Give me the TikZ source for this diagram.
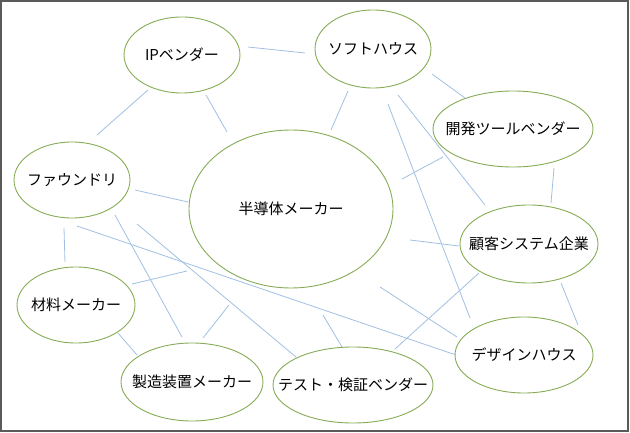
\documentclass[tikz,border=0pt]{standalone}
\usepackage{fontspec}
\setmainfont{Noto Sans CJK JP}
\usetikzlibrary{shapes.geometric}
\definecolor{ellgreen}{RGB}{135,172,85}
\definecolor{linkblue}{RGB}{160,192,226}
\definecolor{framegray}{RGB}{90,90,90}
\newcommand{\orgtext}[1]{\makebox[0pt]{#1}}
\tikzset{
  org/.style={ellipse, draw=ellgreen, line width=0.9pt, fill=white, inner sep=0pt, font=\fontsize{15}{17}\selectfont},
  link/.style={draw=linkblue, line width=0.8pt}
}
\begin{document}
\begin{tikzpicture}[x=1pt,y=-1pt]
\useasboundingbox (0,0) rectangle (630,433);
\draw[framegray, line width=1.5pt] (1,1) rectangle (628,431);
% nodes
\node[org, minimum width=116pt, minimum height=76pt] (ip) at (182,55) {\orgtext{IPベンダー}};
\node[org, minimum width=116pt, minimum height=78pt] (soft) at (373,49) {\orgtext{ソフトハウス}};
\node[org, minimum width=160pt, minimum height=76pt] (dev) at (513,129) {\orgtext{開発ツールベンダー}};
\node[org, minimum width=116pt, minimum height=76pt] (fab) at (72,180) {\orgtext{ファウンドリ}};
\node[org, minimum width=204pt, minimum height=158pt] (semi) at (291,209) {\orgtext{半導体メーカー}};
\node[org, minimum width=138pt, minimum height=78pt] (cust) at (529,244) {\orgtext{顧客システム企業}};
\node[org, minimum width=118pt, minimum height=76pt] (mat) at (76,305) {\orgtext{材料メーカー}};
\node[org, minimum width=142pt, minimum height=78pt] (equip) at (192,382) {\orgtext{製造装置メーカー}};
\node[org, minimum width=160pt, minimum height=76pt] (test) at (353,385) {\orgtext{テスト・検証ベンダー}};
\node[org, minimum width=138pt, minimum height=76pt] (design) at (524,355) {\orgtext{デザインハウス}};
% connector end points
\coordinate (a1) at (248,47);  \coordinate (b1) at (305,53);
\coordinate (a2) at (148,90);  \coordinate (b2) at (97,135);
\coordinate (a3) at (206,95);  \coordinate (b3) at (227,132);
\coordinate (a4) at (135,190); \coordinate (b4) at (188,202);
\coordinate (a5) at (432,74);  \coordinate (b5) at (465,98);
\coordinate (a6) at (348,91);  \coordinate (b6) at (331,130);
\coordinate (a7) at (388,104); \coordinate (b7) at (470,318);
\coordinate (a8) at (398,95);  \coordinate (b8) at (485,205);
\coordinate (a9) at (443,157); \coordinate (b9) at (402,179);
\coordinate (a10) at (554,168); \coordinate (b10) at (551,203);
\coordinate (a11) at (410,240); \coordinate (b11) at (459,246);
\coordinate (a12) at (479,273); \coordinate (b12) at (395,349);
\coordinate (a13) at (561,283); \coordinate (b13) at (578,325);
\coordinate (a14) at (380,287); \coordinate (b14) at (457,337);
\coordinate (a15) at (77,226);  \coordinate (b15) at (456,355);
\coordinate (a16) at (323,315); \coordinate (b16) at (342,347);
\coordinate (a17) at (64,228);  \coordinate (b17) at (65,262);
\coordinate (a18) at (115,215); \coordinate (b18) at (182,337);
\coordinate (a19) at (137,224); \coordinate (b19) at (296,357);
\coordinate (a20) at (132,284); \coordinate (b20) at (187,271);
\coordinate (a21) at (118,333); \coordinate (b21) at (137,355);
\coordinate (a22) at (203,338); \coordinate (b22) at (229,305);
\foreach \i in {1,...,22} { \draw[link] (a\i) -- (b\i); }
\end{tikzpicture}
\end{document}
